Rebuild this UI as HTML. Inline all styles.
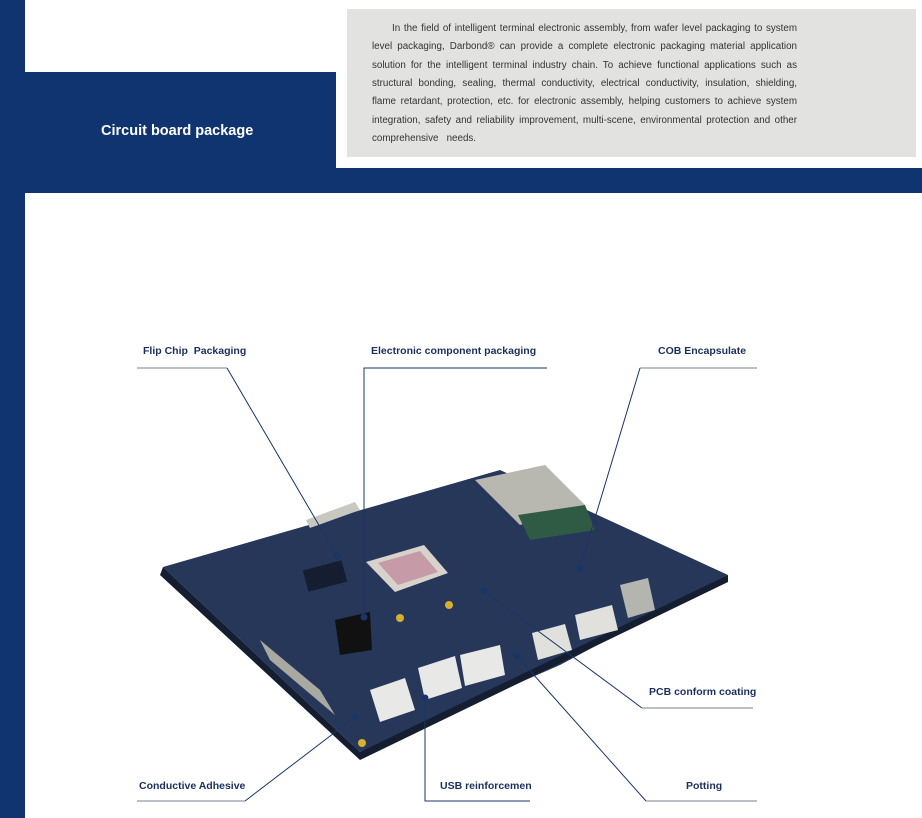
<!DOCTYPE html>
<html><head><meta charset="utf-8"><style>
html,body{margin:0;padding:0}
body{width:922px;height:818px;position:relative;overflow:hidden;background:#fff;font-family:"Liberation Sans",sans-serif}
.nv{position:absolute;background:#10346f}
.grey{position:absolute;left:347px;top:9px;width:569px;height:148px;background:#e2e2e0}
.para{position:absolute;left:372px;top:20px;width:425px;font-size:9.8px;line-height:18.35px;color:#333;font-family:"Liberation Sans",sans-serif}
.para div{text-align:justify;text-align-last:justify;white-space:nowrap}
.para div.l{text-align-last:left}
.title{position:absolute;left:101px;top:123px;color:#fff;font-weight:bold;font-size:14.5px}
.lb{position:absolute;font-size:10.5px;font-weight:bold;color:#1b2f5c;font-family:"Liberation Sans Narrow","Liberation Sans",sans-serif;white-space:nowrap}
</style></head><body>
<div class="nv" style="left:0;top:0;width:25px;height:818px"></div>
<div class="nv" style="left:25px;top:72px;width:311px;height:121px"></div>
<div class="nv" style="left:336px;top:168px;width:586px;height:25px"></div>
<div class="grey"></div>
<div class="para">
<div style="padding-left:20px">In the field of intelligent terminal electronic assembly, from wafer level packaging to system</div>
<div>level packaging, Darbond® can provide a complete electronic packaging material application</div>
<div>solution for the intelligent terminal industry chain. To achieve functional applications such as</div>
<div>structural bonding, sealing, thermal conductivity, electrical conductivity, insulation, shielding,</div>
<div>flame retardant, protection, etc. for electronic assembly, helping customers to achieve system</div>
<div>integration, safety and reliability improvement, multi-scene, environmental protection and other</div>
<div class="l">comprehensive &nbsp; needs.</div>
</div>
<div class="title">Circuit board package</div>

<svg style="position:absolute;left:0;top:0" width="922" height="818">
<polygon points="163,567 500,470 728,575 560,665 360,752" fill="#26375a"/>
<polygon points="163,567 360,752 360,760 160,575" fill="#151d30"/>
<polygon points="360,752 728,575 728,582 360,760" fill="#151d30"/>
<polygon points="366,562 424,545 448,573 395,592" fill="#d8d2cc"/>
<polygon points="378,563 420,551 438,572 398,585" fill="#c79aa7"/>
<polygon points="475,480 545,465 585,505 520,525" fill="#b8b8b0"/>
<polygon points="518,515 585,505 595,530 530,540" fill="#2f5a44"/>
<polygon points="306,520 355,502 360,510 310,528" fill="#c8c8c0"/>
<polygon points="260,640 320,690 335,715 270,660" fill="#a9a9a2"/>
<polygon points="370,690 405,678 415,710 380,722" fill="#e8e8e6"/>
<polygon points="418,668 455,656 462,688 425,700" fill="#e8e8e6"/>
<polygon points="460,655 500,645 505,675 465,686" fill="#e8e8e6"/>
<polygon points="532,633 565,624 572,650 538,660" fill="#e0e0dc"/>
<polygon points="575,615 612,605 618,630 580,640" fill="#e0e0dc"/>
<polygon points="620,585 648,578 655,610 628,618" fill="#b5b5b0"/>
<polygon points="335,620 370,612 372,650 340,655" fill="#111"/>
<rect x="305" y="565" width="40" height="22" fill="#151d30" transform="rotate(-15 325 576)"/>
<circle cx="400" cy="618" r="4" fill="#d8b030"/>
<circle cx="449" cy="605" r="4" fill="#d8b030"/>
<circle cx="362" cy="743" r="4" fill="#d8b030"/>
<g stroke-width="1" fill="none">
<line x1="137" y1="368" x2="227" y2="368" stroke="#a6a9b5" stroke-width="1.5"/>
<polyline points="227,368 337,556" stroke="#1b3568"/>
<polyline points="547,368 364,368 364,617" stroke="#1b3568"/>
<line x1="640" y1="368" x2="757" y2="368" stroke="#a6a9b5" stroke-width="1.5"/>
<polyline points="640,368 580,568" stroke="#1b3568"/>
<polyline points="484,591 642,708" stroke="#1b3568"/>
<line x1="642" y1="708" x2="753" y2="708" stroke="#a6a9b5" stroke-width="1.5"/>
<polyline points="355,717 245,801" stroke="#1b3568"/>
<line x1="137" y1="801" x2="245" y2="801" stroke="#a6a9b5" stroke-width="1.5"/>
<polyline points="425,698 425,801 530,801" stroke="#1b3568"/>
<polyline points="517,656 646,801" stroke="#1b3568"/>
<line x1="646" y1="801" x2="757" y2="801" stroke="#a6a9b5" stroke-width="1.5"/>
</g>
<g fill="#1b3568">
<circle cx="337" cy="556" r="3.5"/><circle cx="364" cy="617" r="3.5"/><circle cx="580" cy="568" r="3.5"/>
<circle cx="484" cy="591" r="3.5"/><circle cx="355" cy="717" r="3.5"/><circle cx="425" cy="698" r="3.5"/><circle cx="517" cy="656" r="3.5"/>
</g>
</svg>
<div class="lb" style="left:143px;top:345px">Flip Chip&nbsp; Packaging</div>
<div class="lb" style="left:371px;top:345px">Electronic component packaging</div>
<div class="lb" style="left:658px;top:345px">COB Encapsulate</div>
<div class="lb" style="left:649px;top:686px">PCB conform coating</div>
<div class="lb" style="left:139px;top:780px">Conductive Adhesive</div>
<div class="lb" style="left:440px;top:780px">USB reinforcemen</div>
<div class="lb" style="left:686px;top:780px">Potting</div>
</body></html>
